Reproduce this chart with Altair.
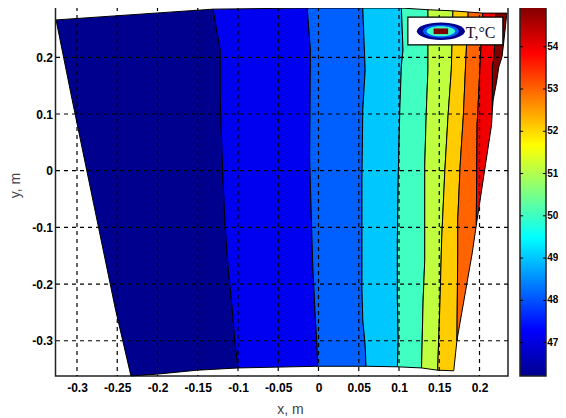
import altair as alt
import pandas as pd

X_TICKS = [-0.3, -0.25, -0.2, -0.15, -0.1, -0.05, 0, 0.05, 0.1, 0.15, 0.2]
Y_TICKS = [-0.3, -0.2, -0.1, 0, 0.1, 0.2]
T_TICKS = [47, 48, 49, 50, 51, 52, 53, 54]
X_DOMAIN = [-0.3267, 0.2354]
Y_DOMAIN = [-0.3622, 0.2888]
T_DOMAIN = [46.21, 54.94]

BAND_COLORS = ["#00008f", "#0000f0", "#0060ff", "#00c8ff", "#40ffc0",
               "#c0ff40", "#ffcc00", "#ff6400", "#f00000", "#800000"]

outer_left_x = [-0.326, -0.306, -0.252, -0.233]
outer_left_y = [0.266, 0.125, -0.246, -0.362]
bottom1_x = [-0.201, -0.151]
bottom1_y = [-0.359, -0.352]
b12_x = [-0.131, -0.122, -0.122, -0.120, -0.119, -0.116, -0.112, -0.107, -0.104, -0.100]
b12_y = [0.285, 0.213, 0.125, 0.037, -0.001, -0.099, -0.175, -0.246, -0.299, -0.348]
b23_x = [-0.014, -0.010, -0.011, -0.008, -0.007, -0.004, -0.002, -0.001]
b23_y = [0.287, 0.213, 0.022, -0.126, -0.170, -0.258, -0.304, -0.345]
b34_x = [0.055, 0.058, 0.055, 0.054, 0.054, 0.055, 0.058, 0.059]
b34_y = [0.287, 0.178, 0.107, -0.016, -0.210, -0.263, -0.308, -0.345]
b45_x = [0.103, 0.105, 0.103, 0.101, 0.099, 0.098, 0.098, 0.099, 0.098]
b45_y = [0.287, 0.213, 0.186, 0.107, -0.016, -0.122, -0.228, -0.299, -0.346]
b56_x = [0.136, 0.136, 0.134, 0.132, 0.132, 0.130, 0.128]
b56_y = [0.284, 0.178, 0.107, 0.010, -0.158, -0.228, -0.348]
b67_x = [0.167, 0.165, 0.161, 0.157, 0.153, 0.151, 0.148]
b67_y = [0.282, 0.178, 0.098, 0.001, -0.122, -0.228, -0.352]
b78_x = [0.186, 0.183, 0.180, 0.176, 0.173, 0.173, 0.172]
b78_y = [0.280, 0.195, 0.098, 0.010, -0.087, -0.140, -0.299]
b89_x = [0.204, 0.201, 0.198, 0.197, 0.196]
b89_y = [0.278, 0.195, 0.107, 0.081, -0.096]
b910_x = [0.220, 0.219, 0.218, 0.216, 0.216]
b910_y = [0.278, 0.225, 0.201, 0.183, 0.107]
right_a_x = [0.234, 0.230, 0.228, 0.224, 0.221, 0.217, 0.216]
right_a_y = [0.278, 0.225, 0.201, 0.183, 0.155, 0.125, 0.107]
right_b_x = [0.215]
right_b_y = [0.081]
right_c_x = [0.191, 0.172]
right_c_y = [-0.145, -0.299]
right_d_x = [0.168]
right_d_y = [-0.353]

polygons = [
    (outer_left_x + bottom1_x + b12_x[::-1], outer_left_y + bottom1_y + b12_y[::-1]),
    (b12_x + b23_x[::-1], b12_y + b23_y[::-1]),
    (b23_x + b34_x[::-1], b23_y + b34_y[::-1]),
    (b34_x + b45_x[::-1], b34_y + b45_y[::-1]),
    (b45_x + b56_x[::-1], b45_y + b56_y[::-1]),
    (b56_x + b67_x[::-1], b56_y + b67_y[::-1]),
    (b67_x + right_d_x + b78_x[::-1], b67_y + right_d_y + b78_y[::-1]),
    (b78_x + right_c_x[::-1] + b89_x[::-1], b78_y + right_c_y[::-1] + b89_y[::-1]),
    (b89_x + right_b_x + b910_x[::-1], b89_y + right_b_y + b910_y[::-1]),
    (b910_x + right_a_x[::-1], b910_y + right_a_y[::-1]),
]

rows = []
for i, (xs, ys) in enumerate(polygons):
    xs = xs + xs[:1]
    ys = ys + ys[:1]
    for j, (a, b) in enumerate(zip(xs, ys)):
        rows.append({"band": i, "ord": j, "x": a, "y": b, "color": BAND_COLORS[i]})
df = pd.DataFrame(rows)

FONT = "Liberation Sans"
sx = alt.Scale(domain=X_DOMAIN, nice=False, zero=False)
sy = alt.Scale(domain=Y_DOMAIN, nice=False, zero=False)

bands = alt.Chart(df).mark_line(filled=True, stroke="black", strokeWidth=1).encode(
    x=alt.X("x:Q", scale=sx, axis=alt.Axis(
        values=X_TICKS, grid=False, domain=False, tickSize=0, labelPadding=6,
        labelExpr="toString(datum.value)", labelFont=FONT, labelFontSize=12,
        labelFontWeight="bold", labelColor="black", labelOverlap=False, labelFlush=False,
        title="x, m", titleFont=FONT, titleFontSize=14, titleFontWeight="normal",
        titleColor="#444444", titleX=234.5, titleY=33, titleBaseline="middle")),
    y=alt.Y("y:Q", scale=sy, axis=alt.Axis(
        values=Y_TICKS, grid=False, domain=False, tickSize=0, labelPadding=3,
        labelExpr="toString(datum.value)", labelFont=FONT, labelFontSize=12,
        labelFontWeight="bold", labelColor="black", labelOverlap=False, labelFlush=False,
        title="y, m", titleFont=FONT, titleFontSize=14, titleFontWeight="normal",
        titleColor="#444444", titleX=-40, titleY=178, titleBaseline="middle")),
    order="ord:Q",
    detail="band:N",
    fill=alt.Fill("color:N", scale=None),
)

grid_x = alt.Chart(pd.DataFrame({"x": X_TICKS})).mark_rule(
    color="black", strokeWidth=1.2, strokeDash=[4, 4]
).encode(x=alt.X("x:Q", scale=sx))
grid_y = alt.Chart(pd.DataFrame({"y": Y_TICKS})).mark_rule(
    color="black", strokeWidth=1.2, strokeDash=[4, 4]
).encode(y=alt.Y("y:Q", scale=sy))

# Legend box, in data units
legend_box = alt.Chart(pd.DataFrame({"x": [0.111], "x2": [0.229], "y": [0.222], "y2": [0.271]})).mark_rect(
    fill="white", stroke="black", strokeWidth=1.2
).encode(x=alt.X("x:Q", scale=sx), x2="x2:Q", y=alt.Y("y:Q", scale=sy), y2="y2:Q")

ELLIPSE = "M-1,0A1,0.36,0,1,1,1,0A1,0.36,0,1,1,-1,0Z"
ICON_X = [0.152]
ICON_Y = [0.246]
icon_df = pd.DataFrame({"x": ICON_X, "y": ICON_Y})


def ellipse(size, color):
    return alt.Chart(icon_df).mark_point(
        shape=ELLIPSE, filled=True, fill=color, size=size, opacity=1, strokeWidth=0
    ).encode(x=alt.X("x:Q", scale=sx), y=alt.Y("y:Q", scale=sy))


icons = [ellipse(2304, "#00008f"), ellipse(1300, "#0060ff"), ellipse(800, "#40ffc0")]
icon_core = alt.Chart(pd.DataFrame({"x": [0.143], "x2": [0.161], "y": [0.241], "y2": [0.251]})).mark_rect(
    fill="#800000"
).encode(x=alt.X("x:Q", scale=sx), x2="x2:Q", y=alt.Y("y:Q", scale=sy), y2="y2:Q")
legend_text = alt.Chart(pd.DataFrame({"x": [0.183], "y": [0.234], "t": ["T,°C"]})).mark_text(
    align="left", baseline="alphabetic", font="Liberation Serif", fontSize=16, color="#101030"
).encode(x=alt.X("x:Q", scale=sx), y=alt.Y("y:Q", scale=sy), text="t:N")

main = alt.layer(bands, grid_x, grid_y, legend_box, *icons, icon_core, legend_text)

# Colour bar
cx = alt.Scale(domain=[0, 1], range=[464.5, 490.5], nice=False, zero=False)
cy = alt.Scale(domain=T_DOMAIN, nice=False, zero=False)
jet = alt.Gradient(
    gradient="linear", x1=0, x2=0, y1=1, y2=0,
    stops=[
        alt.GradientStop(offset=0, color="#00008f"),
        alt.GradientStop(offset=0.125, color="#0000ff"),
        alt.GradientStop(offset=0.375, color="#00ffff"),
        alt.GradientStop(offset=0.625, color="#ffff00"),
        alt.GradientStop(offset=0.875, color="#ff0000"),
        alt.GradientStop(offset=1, color="#800000"),
    ],
)
cb_rect = alt.Chart(pd.DataFrame({"a": [0], "b": [1], "lo": [T_DOMAIN[0]], "hi": [T_DOMAIN[1]]})).mark_rect(
    fill=jet, stroke="#222222", strokeWidth=1.5
).encode(
    x=alt.X("a:Q", scale=cx, axis=None), x2="b:Q",
    y=alt.Y("lo:Q", scale=cy, axis=None), y2="hi:Q",
)
tick_df = pd.DataFrame({"t": T_TICKS, "a": [0.0] * 8, "b": [0.12] * 8, "c": [0.88] * 8, "d": [1.0] * 8,
                        "lx": [1.05] * 8, "label": [str(v) for v in T_TICKS]})
cb_ticks_l = alt.Chart(tick_df).mark_rule(color="black", strokeWidth=1).encode(
    x=alt.X("a:Q", scale=cx, axis=None), x2="b:Q", y=alt.Y("t:Q", scale=cy, axis=None))
cb_ticks_r = alt.Chart(tick_df).mark_rule(color="black", strokeWidth=1).encode(
    x=alt.X("c:Q", scale=cx, axis=None), x2="d:Q", y=alt.Y("t:Q", scale=cy, axis=None))
cb_labels = alt.Chart(tick_df).mark_text(
    align="left", baseline="middle", font=FONT, fontSize=10, fontWeight="bold", color="black"
).encode(x=alt.X("lx:Q", scale=cx, axis=None), y=alt.Y("t:Q", scale=cy, axis=None), text="label:N")
colorbar = alt.layer(cb_rect, cb_ticks_l, cb_ticks_r, cb_labels)

chart = alt.layer(main, colorbar).resolve_scale(x="independent", y="independent").properties(
    width=452.5, height=369,
    autosize=alt.AutoSizeParams(type="none"),
    padding={"left": 47.5, "top": -1, "right": 50, "bottom": 41},
    background="white",
).configure_view(stroke="#222222", strokeWidth=1.5)

chart.save("out.html", embed_options={"renderer": "svg", "actions": False})
